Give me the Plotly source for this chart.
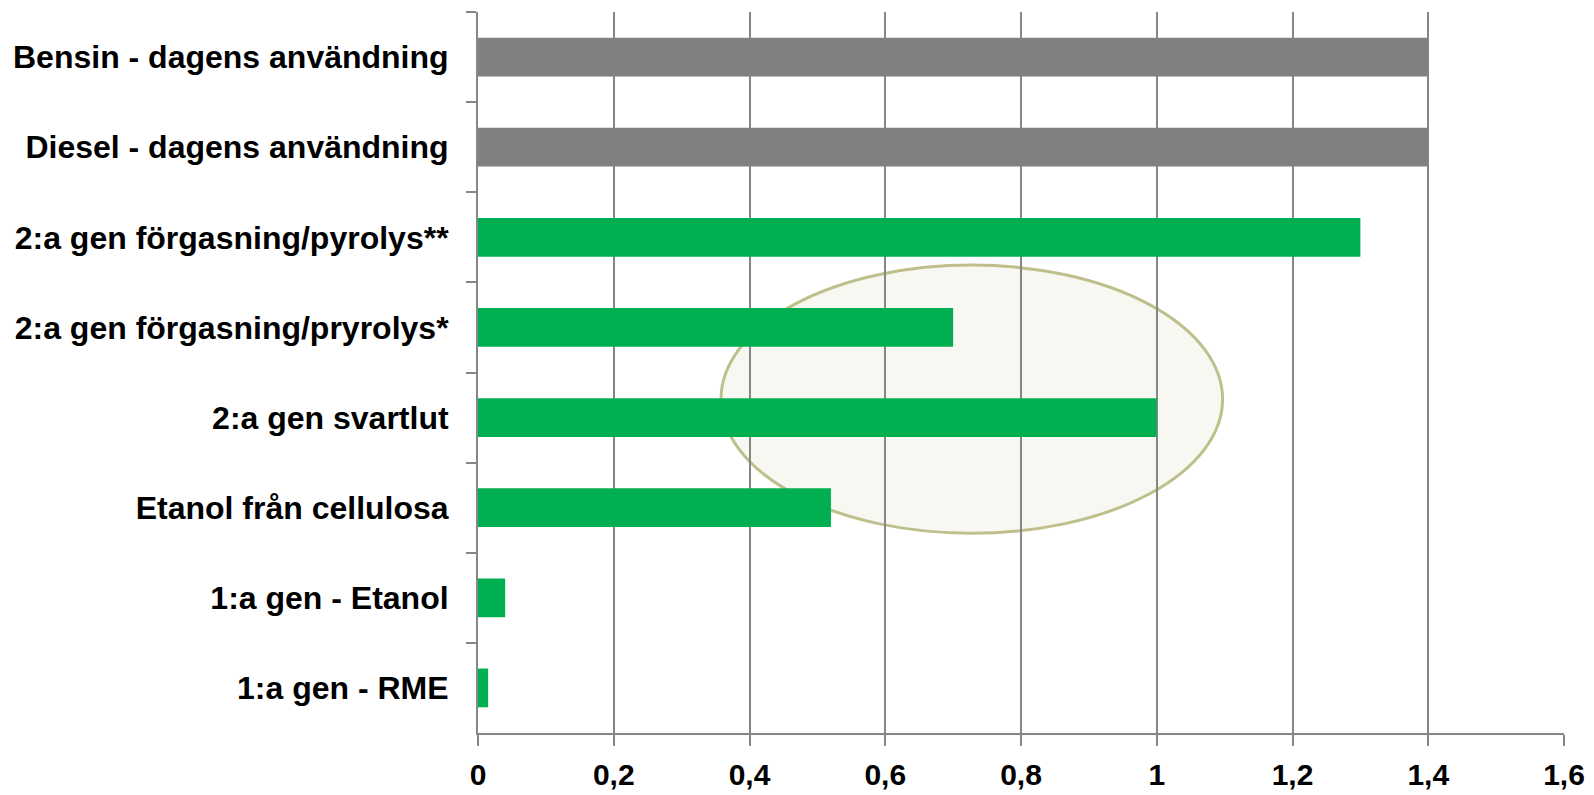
import plotly.graph_objects as go

categories = [
    "Bensin - dagens användning",
    "Diesel - dagens användning",
    "2:a gen förgasning/pyrolys**",
    "2:a gen förgasning/pryrolys*",
    "2:a gen svartlut",
    "Etanol från cellulosa",
    "1:a gen - Etanol",
    "1:a gen - RME",
]
values = [1.4, 1.4, 1.3, 0.7, 1.0, 0.52, 0.04, 0.015]
colors = ["#808080", "#808080", "#00B050", "#00B050", "#00B050", "#00B050", "#00B050", "#00B050"]
x_ticks = [0, 0.2, 0.4, 0.6, 0.8, 1.0, 1.2, 1.4, 1.6]
x_ticklabels = ["0", "0,2", "0,4", "0,6", "0,8", "1", "1,2", "1,4", "1,6"]

FONT = "Liberation Sans, Arial, sans-serif"

fig = go.Figure(go.Bar(
    x=values, y=categories, orientation="h",
    marker=dict(color=colors, line=dict(width=0)),
    width=0.43,
))

fig.add_shape(type="circle", xref="x", yref="paper",
              x0=0.358, x1=1.097, y0=0.277, y1=0.649,
              fillcolor="#F7F8F2", line=dict(color="#BFBF8C", width=3),
              layer="below")

fig.update_layout(
    width=1594, height=795,
    margin=dict(l=478, r=30, t=12, b=62, autoexpand=False),
    paper_bgcolor="white", plot_bgcolor="rgba(0,0,0,0)",
    font=dict(family=FONT, size=31, color="black"),
    showlegend=False,
    bargap=0.57,
)
fig.update_xaxes(
    range=[0, 1.6], tickvals=x_ticks, ticktext=x_ticklabels,
    showgrid=True, gridcolor="#868686", gridwidth=2,
    showline=True, linecolor="#868686", linewidth=2,
    ticks="outside", ticklen=11, tickwidth=2, tickcolor="#868686",
    ticklabelstandoff=3, automargin=False,
    tickfont=dict(family=FONT, size=30, color="black", weight="bold"),
    zeroline=False, fixedrange=True,
)
fig.update_yaxes(
    autorange="reversed", categoryorder="array", categoryarray=categories,
    showgrid=False, showline=True, linecolor="#868686", linewidth=2,
    ticks="outside", ticklen=10, tickwidth=2, tickcolor="#868686",
    tickson="boundaries", ticklabelstandoff=21, automargin=False,
    tickfont=dict(family=FONT, size=32, color="black", weight="bold"),
    fixedrange=True,
)

fig.write_html("out.html")
